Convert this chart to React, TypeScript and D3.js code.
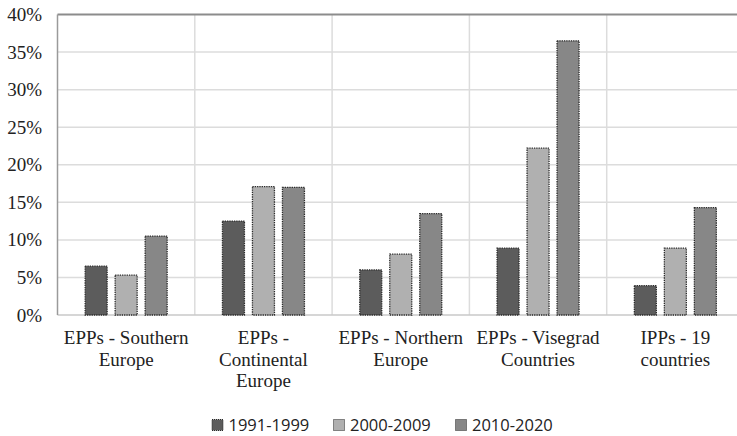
import React from "react";
import * as d3 from "d3";

const categories = [
  ["EPPs - Southern", "Europe"],
  ["EPPs -", "Continental", "Europe"],
  ["EPPs - Northern", "Europe"],
  ["EPPs - Visegrad", "Countries"],
  ["IPPs - 19", "countries"],
];
const seriesNames = ["1991-1999", "2000-2009", "2010-2020"];
const values1991 = [6.5, 12.5, 6.0, 8.9, 3.9];
const values2000 = [5.3, 17.1, 8.1, 22.2, 8.9];
const values2010 = [10.5, 17.0, 13.5, 36.5, 14.3];
const yTicks = [0, 5, 10, 15, 20, 25, 30, 35, 40];

const colors = ["#5c5c5c", "#b0b0b0", "#878787"];
const serif = "'Liberation Serif', 'Times New Roman', serif";

export default function App() {
  const width = 737, height = 436;
  const margin = {top: 14.5, left: 57.5, bottom: 315};
  const right = 744;
  const series = [values1991, values2000, values2010];

  const x0 = d3.scaleBand()
    .domain(categories.map((_, i) => String(i)))
    .range([margin.left, right])
    .paddingInner(0)
    .paddingOuter(0);
  const bw = 22, gap = 8;
  const y = d3.scaleLinear().domain([0, 40]).range([margin.bottom, margin.top]);

  return (
    <svg width={width} height={height} style={{position: "absolute", left: 0, top: 0, background: "#fff"}}>
      {yTicks.slice(1, -1).map((t) => (
        <line key={t} x1={margin.left} x2={right} y1={y(t)} y2={y(t)} stroke="#dcdcdc" strokeWidth={1.5} />
      ))}
      {categories.map((_, i) => i > 0 && (
        <line key={i} x1={x0(String(i))} x2={x0(String(i))} y1={margin.top} y2={margin.bottom} stroke="#dcdcdc" strokeWidth={1.5} />
      ))}
      <line x1={margin.left} x2={right} y1={margin.bottom} y2={margin.bottom} stroke="#c8c8c8" strokeWidth={1.5} />
      <line x1={margin.left} x2={right} y1={margin.top} y2={margin.top} stroke="#8c8c8c" strokeWidth={2} />
      <line x1={margin.left} x2={margin.left} y1={margin.top} y2={margin.bottom} stroke="#9a9a9a" strokeWidth={1.5} />
      {yTicks.map((t) => (
        <text key={t} x={42} y={y(t) + 6.5} textAnchor="end" fontFamily={serif} fontSize={19} fill="#222">{t}%</text>
      ))}
      {categories.map((_, i) => {
        const cx = (x0(String(i)) as number) + x0.bandwidth() / 2;
        const start = cx - (3 * bw + 2 * gap) / 2;
        return series.map((vals, s) => (
          <rect key={i + "-" + s} x={start + s * (bw + gap)} y={y(vals[i])} width={bw} height={margin.bottom - y(vals[i])}
            fill={colors[s]} stroke="#2a2a2a" strokeWidth={1.3} strokeDasharray="1.3 1" />
        ));
      })}
      {categories.map((lines, i) => {
        const cx = (x0(String(i)) as number) + x0.bandwidth() / 2;
        return (
          <text key={i} x={cx} y={344} textAnchor="middle" fontFamily={serif} fontSize={19} fill="#222">
            {lines.map((l, k) => <tspan key={k} x={cx} dy={k === 0 ? 0 : 21.5}>{l}</tspan>)}
          </text>
        );
      })}
      {seriesNames.map((n, s) => {
        const lx = [212, 333.5, 455.5][s];
        return (
          <g key={n}>
            <rect x={lx} y={419.5} width={11} height={11} fill={colors[s]} stroke="#2a2a2a" strokeWidth={1} strokeDasharray="1 1" />
            <text x={lx + 16.5} y={431} fontFamily="'Open Sans', sans-serif" fontSize={16.5} fill="#222">{n}</text>
          </g>
        );
      })}
    </svg>
  );
}
